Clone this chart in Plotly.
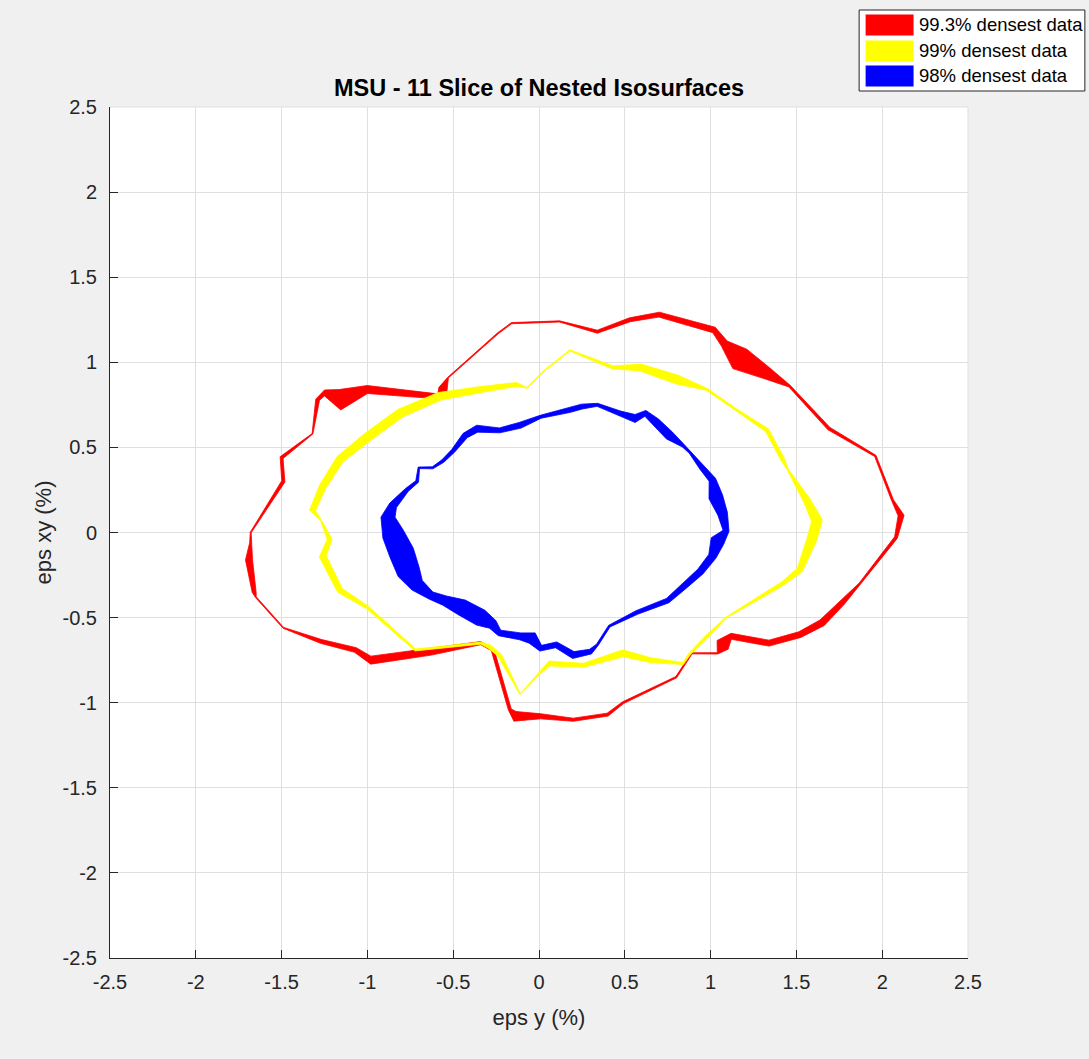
import numpy as np
import plotly.graph_objects as go

# ---------------- data (eps y %, eps xy %, local band thickness %) ----------------
red_x = [-1.68, -1.49, -1.50, -1.32, -1.29, -1.25, -1.16, -1.00, -0.59, -0.56, -0.53, -0.24,
         -0.16, 0.12, 0.34, 0.53, 0.70, 1.02, 1.08, 1.17, 1.32, 1.46, 1.69, 1.96, 2.06, 2.11,
         2.08, 1.87, 1.77, 1.65, 1.52, 1.34, 1.12, 1.07, 1.04, 0.89, 0.80, 0.49, 0.40, 0.20,
         0.01, -0.14, -0.17, -0.27, -0.34, -0.63, -0.98, -1.07, -1.27, -1.49, -1.65, -1.66,
         -1.69, -1.68]
red_y = [0.00, 0.30, 0.44, 0.58, 0.78, 0.82, 0.78, 0.84, 0.80, 0.84, 0.91, 1.17,
         1.23, 1.24, 1.18, 1.25, 1.28, 1.19, 1.11, 1.02, 0.94, 0.86, 0.61, 0.45, 0.19, 0.10,
         -0.03, -0.30, -0.41, -0.53, -0.60, -0.65, -0.61, -0.66, -0.71, -0.71, -0.85, -1.00, -1.07, -1.10,
         -1.08, -1.08, -1.04, -0.69, -0.65, -0.70, -0.75, -0.69, -0.64, -0.56, -0.38, -0.35,
         -0.16, -0.06]
red_t = [0.006, 0.020, 0.020, 0.005, 0.023, 0.035, 0.120, 0.047, 0.029, 0.053, 0.005, 0.007,
         0.007, 0.007, 0.018, 0.023, 0.029, 0.035, 0.045, 0.140, 0.075, 0.012, 0.018, 0.010, 0.012, 0.035,
         0.018, 0.010, 0.029, 0.041, 0.035, 0.035, 0.035, 0.082, 0.008, 0.007, 0.009, 0.012, 0.018, 0.018,
         0.030, 0.058, 0.018, 0.018, 0.018, 0.041, 0.047, 0.029, 0.023, 0.006, 0.006, 0.023,
         0.041, 0.012]

yel_x = [0.18, 0.43, 0.59, 0.80, 0.98, 1.15, 1.33, 1.42, 1.45, 1.56, 1.62, 1.59, 1.52, 1.42,
         1.09, 0.98, 0.88, 0.84, 0.65, 0.49, 0.26, 0.06, 0.01, -0.11, -0.23, -0.29, -0.34, -0.72,
         -1.00, -1.16, -1.26, -1.22, -1.27, -1.32, -1.26, -1.16, -1.00, -0.81, -0.58, -0.34, -0.13,
         -0.07, 0.03]
yel_y = [1.07, 0.97, 0.97, 0.90, 0.84, 0.72, 0.60, 0.43, 0.37, 0.19, 0.07, -0.04, -0.22, -0.30,
         -0.50, -0.61, -0.71, -0.77, -0.75, -0.71, -0.78, -0.77, -0.82, -0.95, -0.72, -0.67, -0.65, -0.69,
         -0.44, -0.34, -0.14, -0.04, 0.07, 0.13, 0.27, 0.43, 0.56, 0.70, 0.80, 0.84, 0.87,
         0.85, 0.95]
yel_t = [0.008, 0.018, 0.041, 0.053, 0.012, 0.012, 0.023, 0.023, 0.008, 0.041, 0.064, 0.058, 0.035, 0.023,
         0.006, 0.018, 0.012, 0.012, 0.029, 0.041, 0.023, 0.029, 0.012, 0.006, 0.023, 0.023, 0.012, 0.012,
         0.018, 0.035, 0.041, 0.029, 0.006, 0.035, 0.041, 0.047, 0.053, 0.053, 0.047, 0.035, 0.023,
         0.006, 0.006]

blu_x = [-0.70, -0.62, -0.56, -0.50, -0.43, -0.36, -0.23, -0.11, 0.01, 0.18, 0.25, 0.34, 0.47,
         0.56, 0.62, 0.68, 0.76, 0.84, 0.88, 0.95, 1.01, 1.03, 1.07, 1.09, 1.04, 1.01, 0.94, 0.84,
         0.75, 0.57, 0.41, 0.34, 0.30, 0.20, 0.10, 0.01, -0.04, -0.11, -0.23, -0.27, -0.34, -0.45,
         -0.55, -0.63, -0.71, -0.76, -0.80, -0.85, -0.88, -0.85, -0.77, -0.71]
blu_y = [0.38, 0.38, 0.42, 0.48, 0.57, 0.61, 0.60, 0.63, 0.68, 0.72, 0.74, 0.75, 0.70,
         0.67, 0.70, 0.65, 0.57, 0.51, 0.47, 0.38, 0.31, 0.21, 0.11, 0.01, -0.05, -0.14, -0.23, -0.32,
         -0.40, -0.47, -0.55, -0.66, -0.70, -0.72, -0.66, -0.68, -0.62, -0.61, -0.59, -0.54, -0.50, -0.44,
         -0.40, -0.37, -0.31, -0.23, -0.12, -0.01, 0.09, 0.16, 0.25, 0.30]
blu_t = [0.012, 0.012, 0.018, 0.023, 0.035, 0.041, 0.029, 0.035, 0.018, 0.029, 0.029, 0.018, 0.029,
         0.047, 0.035, 0.047, 0.053, 0.018, 0.012, 0.029, 0.041, 0.082, 0.058, 0.035, 0.082, 0.047, 0.041, 0.035,
         0.029, 0.023, 0.012, 0.012, 0.029, 0.041, 0.035, 0.035, 0.070, 0.041, 0.035, 0.058, 0.100, 0.095,
         0.058, 0.047, 0.082, 0.134, 0.146, 0.128, 0.082, 0.047, 0.023, 0.018]

series_names = ["99.3% densest data", "99% densest data", "98% densest data"]
series_colors = ["#ff0000", "#ffff00", "#0000ff"]
tick_vals = [-2.5, -2, -1.5, -1, -0.5, 0, 0.5, 1, 1.5, 2, 2.5]
tick_text = ["-2.5", "-2", "-1.5", "-1", "-0.5", "0", "0.5", "1", "1.5", "2", "2.5"]


def band(xs, ys, ts):
    """Closed band (slice of an isosurface shell): centre line offset by +/- half thickness."""
    x = np.asarray(xs, float)
    y = np.asarray(ys, float)
    t = np.asarray(ts, float)
    tx = np.roll(x, -1) - np.roll(x, 1)
    ty = np.roll(y, -1) - np.roll(y, 1)
    nrm = np.hypot(tx, ty)
    nx, ny = -ty / nrm, tx / nrm
    ox, oy = x + nx * t / 2, y + ny * t / 2
    ix, iy = x - nx * t / 2, y - ny * t / 2
    X = list(ox) + [ox[0], ix[0]] + list(ix[::-1])
    Y = list(oy) + [oy[0], iy[0]] + list(iy[::-1])
    return X, Y


fig = go.Figure()
for (xs, ys, ts), name, col in zip([(red_x, red_y, red_t), (yel_x, yel_y, yel_t), (blu_x, blu_y, blu_t)],
                                   series_names, series_colors):
    X, Y = band(xs, ys, ts)
    fig.add_trace(go.Scatter(x=X, y=Y, mode="lines", fill="toself", fillcolor=col,
                             line=dict(color=col, width=0.8), name=name, showlegend=False,
                             hoverinfo="skip"))

W, H = 1089, 1059
L, R, T, B = 109.5, 120.5, 107, 101
PW, PH = W - L - R, H - T - B


def px(xp):
    return (xp - L) / PW


def py(yp):
    return (T + PH - yp) / PH


FONT = "Liberation Sans, Arial, Helvetica, sans-serif"
TXT = "#262626"

axis_common = dict(range=[-2.5, 2.5], tickmode="array", tickvals=tick_vals, ticktext=tick_text,
                   showgrid=True, gridcolor="#dfdfdf", gridwidth=1, zeroline=False,
                   showline=True, linecolor=TXT, linewidth=1, mirror=False,
                   ticks="inside", ticklen=8, tickcolor=TXT, tickwidth=1,
                   tickfont=dict(family=FONT, size=20, color=TXT), fixedrange=True)

fig.update_layout(
    width=W, height=H, autosize=False,
    margin=dict(l=L, r=R, t=T, b=B, pad=0),
    paper_bgcolor="#f0f0f0", plot_bgcolor="#ffffff",
    showlegend=False,
    title=dict(text="<b>MSU - 11 Slice of Nested Isosurfaces</b>", x=px(539), xanchor="center",
               xref="paper", y=1 - 88 / H, yref="container", yanchor="middle",
               font=dict(family=FONT, size=23.5, color="#000000")),
    xaxis=dict(**axis_common, title=dict(text="eps y (%)", standoff=17,
                                         font=dict(family=FONT, size=22, color=TXT)),
               ticklabelstandoff=6),
    yaxis=dict(**axis_common, title=dict(text="eps xy (%)", standoff=4,
                                         font=dict(family=FONT, size=22, color=TXT)),
               ticklabelstandoff=8),
)

shapes = [
    dict(type="line", xref="paper", yref="paper", x0=0, x1=1, y0=1, y1=1,
         line=dict(color="#dfdfdf", width=1), layer="below"),
    dict(type="line", xref="paper", yref="paper", x0=1, x1=1, y0=0, y1=1,
         line=dict(color="#dfdfdf", width=1), layer="below"),
    # legend box
    dict(type="rect", xref="paper", yref="paper", x0=px(859.5), x1=px(1085.5), y0=py(91), y1=py(10),
         line=dict(color=TXT, width=1), fillcolor="#ffffff", layer="above"),
]
annotations = []
legend_rows = [25, 51, 76]
for name, col, yc in zip(series_names, series_colors, legend_rows):
    shapes.append(dict(type="rect", xref="paper", yref="paper", x0=px(866), x1=px(914),
                       y0=py(yc + 10.5), y1=py(yc - 10.5), line=dict(color=col, width=0),
                       fillcolor=col, layer="above"))
    annotations.append(dict(text=name, xref="paper", yref="paper", x=px(917), y=py(yc),
                            xanchor="left", yanchor="middle", showarrow=False,
                            font=dict(family=FONT, size=18.5, color="#000000")))
fig.update_layout(shapes=shapes, annotations=annotations)

fig.write_html("out.html")
